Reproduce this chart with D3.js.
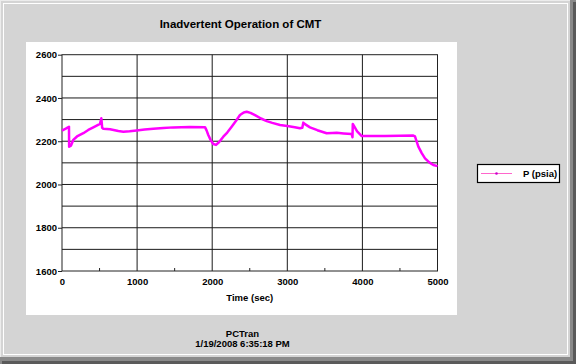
<!DOCTYPE html>
<html><head><meta charset="utf-8">
<script src="https://cdn.jsdelivr.net/npm/d3@7"></script>
<style>body{margin:0;background:#d4d4d4;}svg{display:block;}</style>
</head><body>
<script>
const title = "Inadvertent Operation of CMT";
const xLabel = "Time (sec)";
const seriesName = "P (psia)";
const footer = ["PCTran", "1/19/2008 6:35:18 PM"];
const xTicks = [0, 1000, 2000, 3000, 4000, 5000];
const xMinorTicks = [500, 1500, 2500, 3500, 4500];
const yTicks = [1600, 1800, 2000, 2200, 2400, 2600];
const yGrid = [1700, 1800, 1900, 2000, 2100, 2200, 2300, 2400, 2500];
const time = [0, 50, 93, 95, 120, 150, 200, 284, 350, 417, 506, 524, 535, 550, 640, 750, 817, 900, 994, 1100, 1216, 1350, 1483, 1700, 1904, 1925, 1948, 1980, 2014, 2051, 2090, 2148, 2200, 2259, 2320, 2370, 2420, 2459, 2510, 2570, 2650, 2726, 2800, 2903, 3000, 3100, 3169, 3200, 3213, 3230, 3302, 3400, 3524, 3600, 3658, 3750, 3858, 3868, 3872, 3930, 3991, 4300, 4500, 4678, 4700, 4745, 4790, 4834, 4890, 4944, 5000];
const pressure = [2249, 2258, 2267, 2175, 2180, 2206, 2222, 2237, 2252, 2264, 2280, 2306, 2262, 2258, 2255, 2247, 2244, 2246, 2250, 2254, 2258, 2261, 2264, 2266, 2265, 2250, 2229, 2205, 2187, 2183, 2195, 2221, 2240, 2267, 2296, 2321, 2333, 2336, 2331, 2321, 2305, 2293, 2285, 2275, 2270, 2265, 2260, 2262, 2286, 2280, 2264, 2251, 2237, 2238, 2239, 2236, 2233, 2218, 2280, 2245, 2224, 2224, 2225, 2226, 2222, 2175, 2145, 2121, 2102, 2090, 2085];

const W = 576, H = 364;
const svg = d3.select("body").append("svg").attr("width", W).attr("height", H);
const font = "'Liberation Sans', Arial, sans-serif";

// window frame
svg.append("rect").attr("x",0).attr("y",0).attr("width",W).attr("height",H).attr("fill","#d4d4d4");
svg.append("rect").attr("x",0.5).attr("y",0.5).attr("width",570).attr("height",357).attr("fill","none").attr("stroke","#ececec");
svg.append("rect").attr("x",3.5).attr("y",3.5).attr("width",564).attr("height",351).attr("fill","none").attr("stroke","#ffffff");
svg.append("rect").attr("x",570).attr("y",0).attr("width",6).attr("height",H).attr("fill","#8a8a8a");
svg.append("rect").attr("x",0).attr("y",357).attr("width",W).attr("height",7).attr("fill","#8a8a8a");
svg.append("rect").attr("x",573).attr("y",2).attr("width",3).attr("height",H).attr("fill","#5a5a5a");
svg.append("rect").attr("x",2).attr("y",361).attr("width",W).attr("height",3).attr("fill","#5a5a5a");

// white panel
svg.append("rect").attr("x",26).attr("y",42).attr("width",431).attr("height",273).attr("fill","#ffffff");

const x = d3.scaleLinear().domain([0, 5000]).range([62, 437.5]);
const y = d3.scaleLinear().domain([1600, 2600]).range([271, 54.7]);

// grid
svg.append("g").selectAll("line").data(yGrid).join("line")
  .attr("x1", x(0)).attr("x2", x(5000)).attr("y1", d=>y(d)).attr("y2", d=>y(d))
  .attr("stroke","#1a1a1a").attr("stroke-width",1);
svg.append("g").selectAll("line").data(xTicks.slice(1,-1)).join("line")
  .attr("x1", d=>x(d)).attr("x2", d=>x(d)).attr("y1", y(1600)).attr("y2", y(2600))
  .attr("stroke","#1a1a1a").attr("stroke-width",1);
svg.append("rect").attr("x",x(0)).attr("y",y(2600)).attr("width",x(5000)-x(0)).attr("height",y(1600)-y(2600))
  .attr("fill","none").attr("stroke","#222").attr("stroke-width",1);

// axes
const yAxis = d3.axisLeft(y).tickValues(yTicks).tickSize(4).tickPadding(1).tickFormat(d3.format("d"));
const gy = svg.append("g").attr("transform",`translate(${x(0)},0)`).call(yAxis);
gy.select(".domain").remove();
gy.selectAll("text").attr("font-family",font).attr("font-size","9.5px").attr("font-weight","bold").attr("fill","#000");
gy.selectAll("line").attr("stroke","#222");

const xAxis = d3.axisBottom(x).tickValues(xTicks).tickSize(0).tickPadding(7).tickFormat(d3.format("d"));
const gx = svg.append("g").attr("transform",`translate(0,${y(1600)})`).call(xAxis);
gx.select(".domain").remove();
gx.selectAll("text").attr("font-family",font).attr("font-size","9.5px").attr("font-weight","bold").attr("fill","#000");
svg.append("g").selectAll("line").data(xMinorTicks).join("line")
  .attr("x1", d=>x(d)).attr("x2", d=>x(d)).attr("y1", y(1600)-3).attr("y2", y(1600))
  .attr("stroke","#222");

// series
const pts = time.map((t,i)=>[t, pressure[i]]);
svg.append("path").datum(pts)
  .attr("d", d3.line().x(d=>x(d[0])).y(d=>y(d[1])))
  .attr("fill","none").attr("stroke","#ff00ff").attr("stroke-width",2.5).attr("stroke-linejoin","round");

// text
svg.append("text").attr("x",240.5).attr("y",28).attr("text-anchor","middle")
  .attr("font-family",font).attr("font-size","11.5px").attr("font-weight","bold").text(title);
svg.append("text").attr("x",(x(0)+x(5000))/2).attr("y",301).attr("text-anchor","middle")
  .attr("font-family",font).attr("font-size","9.5px").attr("font-weight","bold").text(xLabel);
svg.append("g").selectAll("text").data(footer).join("text")
  .attr("x",242.5).attr("y",(d,i)=>337+i*10).attr("text-anchor","middle")
  .attr("font-family",font).attr("font-size","9.5px").attr("font-weight","bold").text(d=>d);

// legend
const lg = svg.append("g");
lg.append("rect").attr("x",477.5).attr("y",164.5).attr("width",82).attr("height",18)
  .attr("fill","#fff").attr("stroke","#000").attr("stroke-width",1.2);
lg.append("line").attr("x1",481).attr("x2",512).attr("y1",173.5).attr("y2",173.5)
  .attr("stroke","#ff66cc").attr("stroke-width",1);
lg.append("circle").attr("cx",496.5).attr("cy",173.5).attr("r",1.3).attr("fill","#cc00cc");
lg.append("text").attr("x",523).attr("y",177).attr("font-family",font).attr("font-size","9.5px")
  .attr("font-weight","bold").text(seriesName);
</script>
</body></html>
